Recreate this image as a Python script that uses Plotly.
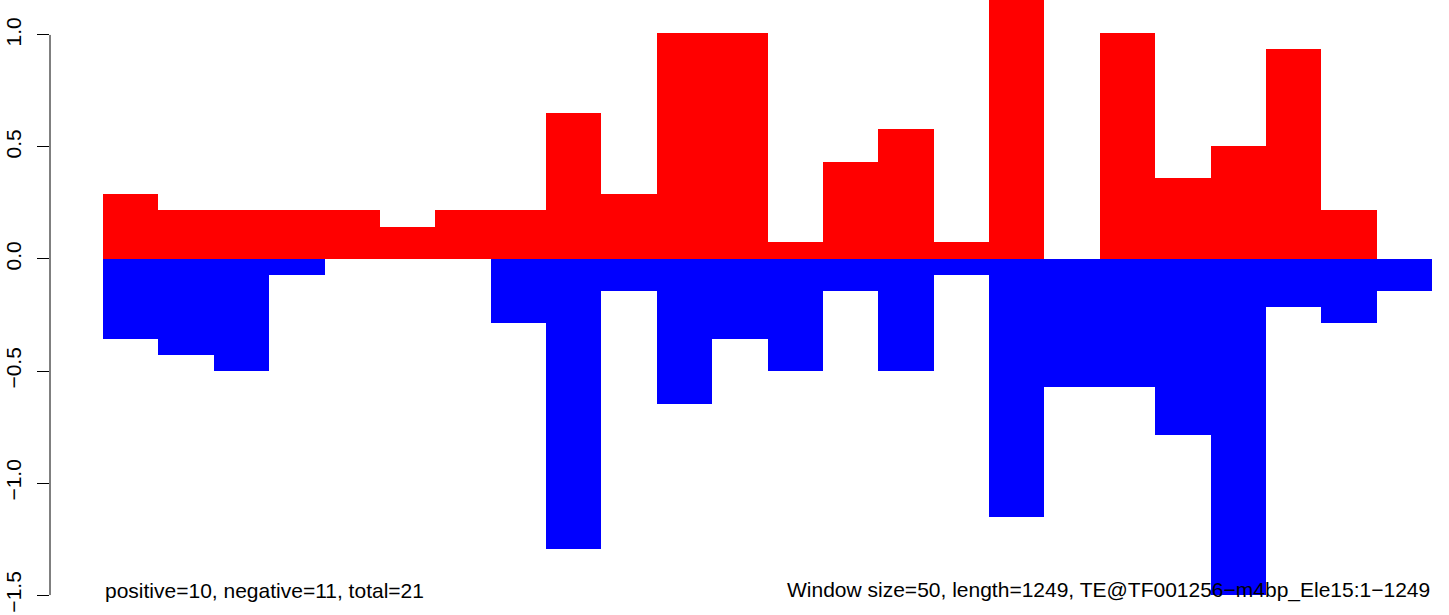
import plotly.graph_objects as go

windows = list(range(24))
positive = [0.29, 0.219, 0.219, 0.219, 0.219, 0.143, 0.219, 0.219, 0.652, 0.29,
            1.009, 1.009, 0.076, 0.433, 0.58, 0.076, 1.29, 0.0, 1.009, 0.362,
            0.504, 0.9375, 0.219, 0.0]
negative = [-0.357, -0.43, -0.5, -0.071, 0.0, 0.0, 0.0, -0.286, -1.295, -0.143,
            -0.647, -0.357, -0.5, -0.143, -0.5, -0.071, -1.152, -0.571, -0.571, -0.786,
            -1.5, -0.214, -0.286, -0.143]
ytick_vals = [-1.5, -1.0, -0.5, 0.0, 0.5, 1.0]
ytick_text = ["\u22121.5", "\u22121.0", "\u22120.5", "0.0", "0.5", "1.0"]
left_note = "positive=10, negative=11, total=21"
right_note = "Window size=50, length=1249, TE@TF001256\u2212m4bp_Ele15:1\u22121249"

FONT = "Liberation Sans, Arial, Helvetica, sans-serif"

fig = go.Figure()
fig.add_trace(go.Bar(x=windows, y=positive, width=1, marker=dict(color="#FF0000", line=dict(width=0)), showlegend=False))
fig.add_trace(go.Bar(x=windows, y=negative, width=1, marker=dict(color="#0000FF", line=dict(width=0)), showlegend=False))

fig.add_shape(type="line", xref="paper", yref="y", x0=0, x1=0, y0=-1.5, y1=1.0,
              line=dict(color="black", width=1))

fig.add_annotation(x=-0.5, y=-1.478, xref="x", yref="y", text=left_note, showarrow=False,
                   xanchor="left", yanchor="middle", font=dict(size=21, color="black", family=FONT))
fig.add_annotation(x=23.5, y=-1.478, xref="x", yref="y", text=right_note, showarrow=False,
                   xanchor="right", yanchor="middle", font=dict(size=21, color="black", family=FONT))

fig.update_layout(
    width=1449, height=615,
    margin=dict(l=50, r=0, t=0, b=0, autoexpand=False),
    paper_bgcolor="white", plot_bgcolor="white",
    barmode="overlay", bargap=0,
    font=dict(family=FONT, size=21, color="black"),
    xaxis=dict(range=[-1.457, 23.807], visible=False, showgrid=False, zeroline=False,
               automargin=False),
    yaxis=dict(range=[-1.589, 1.156], showgrid=False, zeroline=False, showline=False,
               automargin=False, ticklabelstandoff=8,
               tickvals=ytick_vals, ticktext=ytick_text, ticks="outside", ticklen=12,
               tickwidth=1, tickcolor="black", tickangle=-90,
               tickfont=dict(size=21, family=FONT, color="black")),
)

fig.write_html("out.html", config={"displayModeBar": False},
               post_script="document.body.style.margin='0';document.body.style.overflow='hidden';")
